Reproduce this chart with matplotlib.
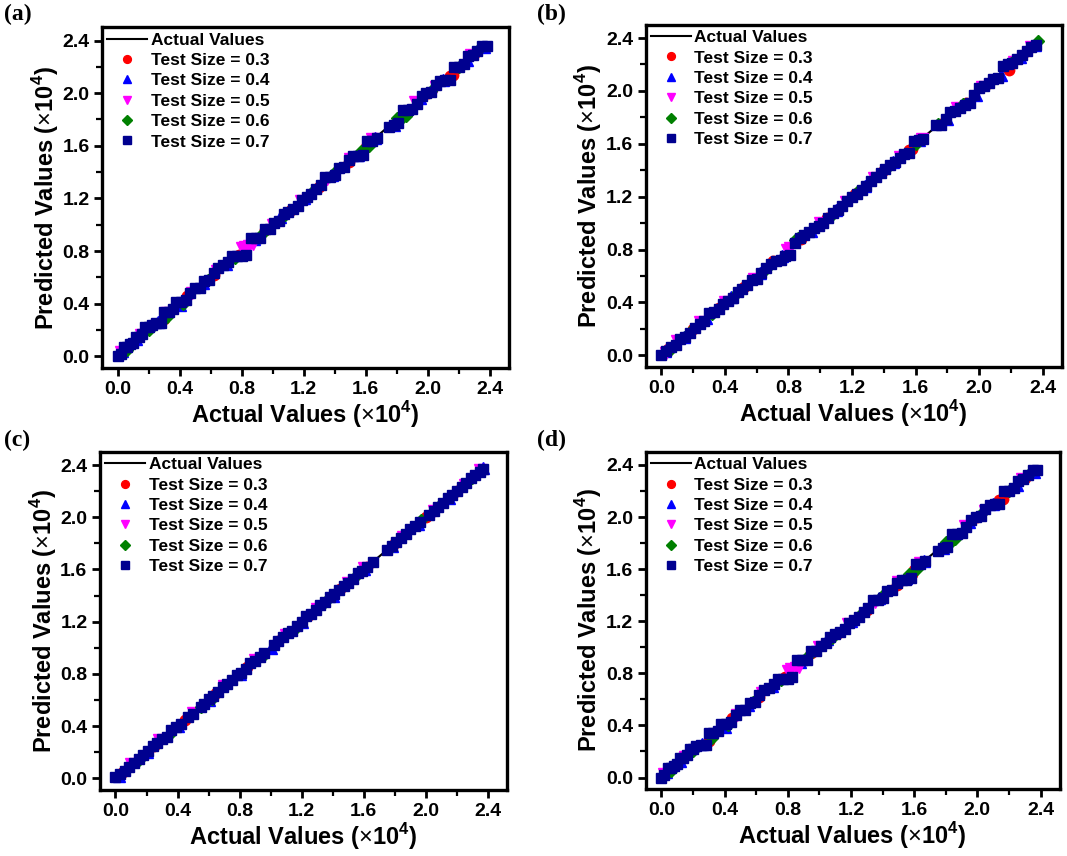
import matplotlib
matplotlib.use('Agg')
import matplotlib.pyplot as plt
from matplotlib.ticker import MultipleLocator

plt.rc('font', family='Liberation Sans', weight='bold', size=13)
plt.rc('axes', labelweight='bold')
plt.rc('mathtext', fontset='custom', rm='Liberation Sans:normal', bf='Liberation Sans:bold')

# legend entries and marker styles per test split
test_labels = ['Test Size = 0.3', 'Test Size = 0.4', 'Test Size = 0.5',
               'Test Size = 0.6', 'Test Size = 0.7']
markers = ['o', '^', 'v', 'D', 's']
colors = ['#ff0000', '#0000ff', '#ff00ff', '#008000', '#00008f']
msizes = [7.5, 8.0, 8.0, 6.5, 7.5]

# ---- model 1 (panels a and d), values in units of 1e4
a_x_03 = [0.05, 0.18, 0.30, 0.45, 0.62, 0.78, 0.95, 1.12, 1.30, 1.49, 1.585, 1.60, 1.82, 2.00, 2.14, 2.16, 2.30]
a_y_03 = [0.06, 0.20, 0.28, 0.46, 0.62, 0.77, 0.96, 1.11, 1.29, 1.48, 1.56, 1.59, 1.82, 2.00, 2.13, 2.14, 2.30]
a_x_04 = [0.03, 0.12, 0.26, 0.40, 0.55, 0.70, 0.88, 1.05, 1.20, 1.38, 1.55, 1.66, 1.78, 1.95, 2.10, 2.25, 2.36]
a_y_04 = [0.04, 0.13, 0.26, 0.39, 0.56, 0.70, 0.89, 1.06, 1.20, 1.38, 1.53, 1.66, 1.76, 1.96, 2.10, 2.25, 2.35]
a_x_05 = [0.02, 0.15, 0.32, 0.48, 0.64, 0.80, 0.82, 0.85, 0.87, 1.00, 1.18, 1.35, 1.50, 1.64, 1.92, 2.05, 2.28]
a_y_05 = [0.03, 0.16, 0.33, 0.48, 0.65, 0.82, 0.83, 0.84, 0.85, 1.00, 1.18, 1.35, 1.50, 1.65, 1.93, 2.05, 2.29]
a_x_06 = [0.06, 0.20, 0.32, 0.42, 0.58, 0.76, 0.93, 1.08, 1.25, 1.40, 1.57, 1.62, 1.80, 1.82, 1.84, 1.86, 2.02, 2.20, 2.34]
a_y_06 = [0.05, 0.20, 0.30, 0.40, 0.58, 0.75, 0.93, 1.07, 1.24, 1.40, 1.56, 1.60, 1.81, 1.82, 1.82, 1.83, 2.02, 2.20, 2.35]
a_x_07 = [0.00, 0.02, 0.04, 0.06, 0.08, 0.10, 0.12, 0.14, 0.16, 0.18, 0.20, 0.22, 0.25, 0.28,
          0.30, 0.33, 0.36, 0.38, 0.41, 0.44, 0.47, 0.50, 0.53, 0.56, 0.59, 0.62, 0.65, 0.68,
          0.71, 0.74, 0.77, 0.80, 0.83, 0.86, 0.89, 0.92, 0.95, 0.98, 1.01, 1.04, 1.07, 1.10,
          1.13, 1.16, 1.19, 1.22, 1.25, 1.28, 1.31, 1.34, 1.37, 1.40, 1.43, 1.46, 1.49, 1.52,
          1.55, 1.58, 1.61, 1.64, 1.67, 1.75, 1.78, 1.81, 1.84, 1.87, 1.90, 1.93, 1.96, 1.99,
          2.02, 2.05, 2.08, 2.11, 2.14, 2.17, 2.20, 2.23, 2.26, 2.29, 2.32, 2.35, 2.38]
a_y_07 = [0.00, 0.02, 0.07, 0.07, 0.09, 0.10, 0.15, 0.15, 0.17, 0.22, 0.22, 0.24, 0.25, 0.25,
          0.34, 0.34, 0.36, 0.41, 0.41, 0.43, 0.48, 0.52, 0.52, 0.57, 0.58, 0.63, 0.67, 0.69,
          0.72, 0.76, 0.76, 0.76, 0.77, 0.90, 0.90, 0.90, 0.97, 0.97, 1.01, 1.03, 1.08, 1.10,
          1.12, 1.14, 1.19, 1.21, 1.23, 1.27, 1.30, 1.36, 1.36, 1.38, 1.43, 1.44, 1.49, 1.52,
          1.52, 1.53, 1.64, 1.64, 1.66, 1.74, 1.76, 1.77, 1.87, 1.87, 1.88, 1.92, 1.98, 2.00,
          2.01, 2.06, 2.09, 2.10, 2.10, 2.20, 2.20, 2.22, 2.28, 2.29, 2.32, 2.36, 2.36]

# ---- model 2 (panel b)
b_x_03 = [0.04, 0.20, 0.36, 0.52, 0.70, 0.88, 1.04, 1.22, 1.40, 1.56, 1.58, 1.76, 1.92, 2.06, 2.19, 2.30]
b_y_03 = [0.05, 0.20, 0.36, 0.52, 0.71, 0.88, 1.04, 1.22, 1.40, 1.55, 1.56, 1.75, 1.91, 2.06, 2.16, 2.30]
b_x_04 = [0.02, 0.14, 0.28, 0.44, 0.62, 0.76, 0.94, 1.10, 1.28, 1.46, 1.62, 1.80, 1.98, 2.14, 2.26, 2.35]
b_y_04 = [0.03, 0.14, 0.28, 0.44, 0.62, 0.75, 0.94, 1.10, 1.28, 1.46, 1.63, 1.79, 1.97, 2.12, 2.26, 2.35]
b_x_05 = [0.03, 0.10, 0.24, 0.40, 0.58, 0.79, 0.81, 1.00, 1.16, 1.34, 1.50, 1.64, 1.86, 2.02, 2.22, 2.33]
b_y_05 = [0.02, 0.11, 0.25, 0.40, 0.58, 0.80, 0.81, 1.00, 1.16, 1.34, 1.50, 1.64, 1.87, 2.03, 2.22, 2.33]
b_x_06 = [0.06, 0.18, 0.32, 0.48, 0.66, 0.84, 0.86, 1.06, 1.24, 1.42, 1.60, 1.74, 1.90, 2.08, 2.20, 2.37]
b_y_06 = [0.05, 0.18, 0.31, 0.48, 0.65, 0.87, 0.89, 1.05, 1.24, 1.42, 1.60, 1.75, 1.90, 2.08, 2.21, 2.38]
b_x_07 = [0.00, 0.03, 0.06, 0.09, 0.12, 0.15, 0.18, 0.21, 0.24, 0.27, 0.30, 0.33, 0.36, 0.39,
          0.42, 0.45, 0.48, 0.51, 0.54, 0.57, 0.60, 0.63, 0.66, 0.69, 0.72, 0.75, 0.78, 0.81,
          0.84, 0.87, 0.90, 0.93, 0.96, 0.99, 1.02, 1.05, 1.08, 1.11, 1.14, 1.17, 1.20, 1.23,
          1.26, 1.29, 1.32, 1.35, 1.38, 1.41, 1.44, 1.47, 1.50, 1.53, 1.56, 1.59, 1.62, 1.65,
          1.73, 1.76, 1.79, 1.82, 1.85, 1.88, 1.91, 1.94, 1.97, 2.00, 2.03, 2.06, 2.09, 2.12,
          2.15, 2.18, 2.21, 2.24, 2.27, 2.30, 2.33, 2.36]
b_y_07 = [0.00, 0.03, 0.06, 0.08, 0.12, 0.14, 0.17, 0.21, 0.24, 0.26, 0.32, 0.33, 0.35, 0.39,
          0.41, 0.43, 0.48, 0.50, 0.53, 0.57, 0.58, 0.62, 0.66, 0.69, 0.71, 0.72, 0.75, 0.76,
          0.85, 0.89, 0.91, 0.93, 0.96, 0.98, 1.00, 1.04, 1.08, 1.10, 1.13, 1.17, 1.20, 1.22,
          1.25, 1.28, 1.32, 1.35, 1.38, 1.41, 1.44, 1.46, 1.49, 1.52, 1.53, 1.62, 1.63, 1.64,
          1.74, 1.74, 1.79, 1.84, 1.85, 1.87, 1.89, 1.91, 1.97, 2.02, 2.04, 2.06, 2.09, 2.10,
          2.19, 2.20, 2.21, 2.24, 2.27, 2.30, 2.33, 2.35]

# ---- model 3 (panel c)
c_x_03 = [0.05, 0.25, 0.45, 0.65, 0.85, 1.05, 1.25, 1.45, 1.62, 1.80, 2.00, 2.20, 2.36]
c_y_03 = [0.05, 0.25, 0.45, 0.65, 0.85, 1.05, 1.25, 1.45, 1.62, 1.80, 2.00, 2.20, 2.36]
c_x_04 = [0.02, 0.20, 0.40, 0.60, 0.80, 1.00, 1.20, 1.40, 1.60, 1.78, 1.95, 2.15, 2.37]
c_y_04 = [0.02, 0.20, 0.40, 0.60, 0.80, 1.00, 1.20, 1.40, 1.60, 1.78, 1.95, 2.15, 2.38]
c_x_05 = [0.10, 0.28, 0.50, 0.70, 0.90, 1.10, 1.30, 1.50, 1.60, 1.85, 2.05, 2.25, 2.35]
c_y_05 = [0.11, 0.29, 0.50, 0.71, 0.91, 1.10, 1.30, 1.50, 1.61, 1.85, 2.05, 2.25, 2.36]
c_x_06 = [0.15, 0.35, 0.55, 0.62, 0.95, 1.15, 1.35, 1.55, 1.76, 1.97, 2.10, 2.30]
c_y_06 = [0.14, 0.34, 0.55, 0.61, 0.94, 1.14, 1.35, 1.55, 1.76, 1.98, 2.10, 2.30]
c_x_07 = [0.00, 0.03, 0.06, 0.09, 0.12, 0.15, 0.18, 0.21, 0.24, 0.27, 0.30, 0.33, 0.36, 0.39,
          0.42, 0.47, 0.50, 0.55, 0.57, 0.60, 0.63, 0.66, 0.69, 0.72, 0.75, 0.78, 0.81, 0.84,
          0.87, 0.90, 0.93, 0.96, 1.02, 1.05, 1.08, 1.11, 1.14, 1.17, 1.20, 1.23, 1.26, 1.29,
          1.32, 1.35, 1.38, 1.41, 1.44, 1.47, 1.50, 1.53, 1.56, 1.59, 1.62, 1.66, 1.75, 1.78,
          1.81, 1.84, 1.87, 1.90, 1.93, 1.96, 2.02, 2.05, 2.08, 2.11, 2.14, 2.17, 2.20, 2.23,
          2.26, 2.29, 2.32, 2.35, 2.37]
c_y_07 = [0.01, 0.03, 0.06, 0.09, 0.12, 0.15, 0.18, 0.21, 0.25, 0.27, 0.30, 0.32, 0.37, 0.39,
          0.42, 0.47, 0.49, 0.55, 0.57, 0.61, 0.63, 0.66, 0.70, 0.72, 0.75, 0.79, 0.81, 0.84,
          0.88, 0.90, 0.93, 0.96, 1.02, 1.05, 1.08, 1.11, 1.13, 1.17, 1.20, 1.24, 1.26, 1.29,
          1.33, 1.35, 1.39, 1.41, 1.44, 1.47, 1.50, 1.53, 1.57, 1.59, 1.62, 1.66, 1.75, 1.78,
          1.81, 1.84, 1.87, 1.91, 1.93, 1.96, 2.02, 2.05, 2.08, 2.11, 2.15, 2.17, 2.20, 2.23,
          2.26, 2.30, 2.32, 2.35, 2.37]

ideal_range = [0.0, 2.38]

panel_a = [(a_x_03, a_y_03), (a_x_04, a_y_04), (a_x_05, a_y_05), (a_x_06, a_y_06), (a_x_07, a_y_07)]
panel_b = [(b_x_03, b_y_03), (b_x_04, b_y_04), (b_x_05, b_y_05), (b_x_06, b_y_06), (b_x_07, b_y_07)]
panel_c = [(c_x_03, c_y_03), (c_x_04, c_y_04), (c_x_05, c_y_05), (c_x_06, c_y_06), (c_x_07, c_y_07)]


def draw_panel(ax, series):
    ax.plot(ideal_range, ideal_range, color='black', lw=1.5, label='Actual Values', zorder=1)
    for (x, y), lab, m, c, s in zip(series, test_labels, markers, colors, msizes):
        ax.plot(x, y, ls='none', marker=m, ms=s, color=c, mec=c, label=lab, zorder=2)

    ax.set_xlim(-0.1, 2.52)
    ax.set_ylim(-0.09, 2.5)
    ax.xaxis.set_major_locator(MultipleLocator(0.4))
    ax.xaxis.set_minor_locator(MultipleLocator(0.2))
    ax.yaxis.set_major_locator(MultipleLocator(0.4))
    ax.yaxis.set_minor_locator(MultipleLocator(0.2))
    ax.xaxis.set_major_formatter('{x:.1f}')
    ax.yaxis.set_major_formatter('{x:.1f}')
    ax.tick_params(which='both', direction='out', top=False, right=False, width=2)
    ax.tick_params(which='major', length=6, labelsize=14, pad=3)
    ax.tick_params(which='minor', length=4, width=1.6)
    for lbl in ax.get_xticklabels() + ax.get_yticklabels():
        lbl.set_fontweight('bold')
    for sp in ax.spines.values():
        sp.set_linewidth(2.4)

    ax.set_xlabel(r'Actual Values ($\times$10$^{\mathbf{4}}$)', fontsize=17, labelpad=1)
    ax.set_ylabel(r'Predicted Values ($\times$10$^{\mathbf{4}}$)', fontsize=17, labelpad=1)

    ax.legend(loc='upper left', frameon=False, fontsize=12.5, borderaxespad=0.05,
              borderpad=0.25, handlelength=2.3, handletextpad=0.2, labelspacing=0.3,
              markerscale=0.75, numpoints=1)


fig = plt.figure(figsize=(10.67, 8.56), dpi=100)

axes = [
    fig.add_axes([0.0956, 0.570, 0.381, 0.398]),
    fig.add_axes([0.605, 0.571, 0.390, 0.400]),
    fig.add_axes([0.0937, 0.077, 0.381, 0.395]),
    fig.add_axes([0.605, 0.078, 0.388, 0.394]),
]

for ax, series in zip(axes, [panel_a, panel_b, panel_c, panel_a]):
    draw_panel(ax, series)

for tag, (px, py) in zip(['(a)', '(b)', '(c)', '(d)'],
                         [(0.004, 0.995), (0.503, 0.995), (0.004, 0.498), (0.503, 0.498)]):
    fig.text(px, py, tag, family='Liberation Serif', weight='bold', fontsize=17,
             ha='left', va='top')

fig.savefig('out.png', dpi=100)
